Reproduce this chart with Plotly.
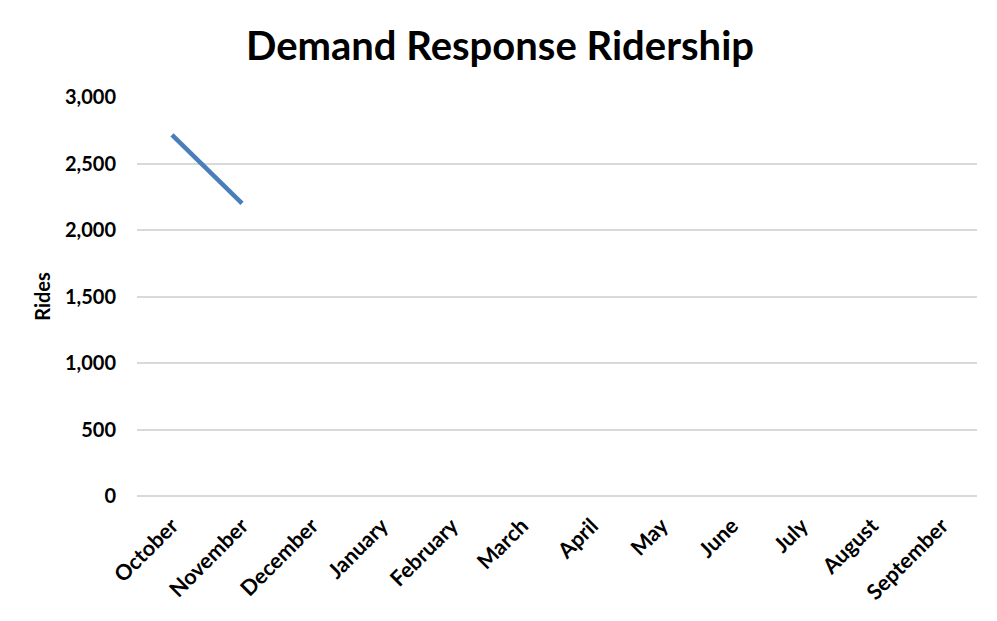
import plotly.graph_objects as go

months = ["October", "November", "December", "January", "February", "March",
          "April", "May", "June", "July", "August", "September"]
rides = [2715, 2200, None, None, None, None, None, None, None, None, None, None]

font_family = "Lato, Open Sans, sans-serif"

fig = go.Figure(go.Scatter(
    x=months,
    y=rides,
    mode="lines",
    line=dict(color="#4a7ebb", width=4.5),
    connectgaps=False,
    showlegend=False,
))

# page body has an 8px margin, so margins are shifted to match the reference
fig.update_layout(
    width=997,
    height=621,
    paper_bgcolor="white",
    plot_bgcolor="white",
    margin=dict(l=129, r=28, t=89, b=133, autoexpand=False),
    font=dict(family=font_family, color="black", size=20),
    title=dict(
        text="<b>Demand Response Ridership</b>",
        x=0.4935, xanchor="center",
        y=0.939, yanchor="middle",
        font=dict(size=40, family=font_family, color="black"),
    ),
)

fig.update_xaxes(
    type="category",
    categoryorder="array",
    categoryarray=months,
    range=[-0.5, len(months) - 0.5],
    tickangle=-45,
    tickfont=dict(size=21.5, weight="bold"),
    ticklabelstandoff=12,
    showgrid=False,
    showline=False,
    zeroline=False,
    ticks="",
)

fig.update_yaxes(
    range=[0, 3000],
    dtick=500,
    tickformat=",d",
    tickfont=dict(size=20, weight="bold"),
    ticklabelstandoff=20,
    gridcolor="#d9d9d9",
    gridwidth=1.5,
    zeroline=True,
    zerolinecolor="#d9d9d9",
    zerolinewidth=1.5,
    showline=False,
    title=dict(text="<b>Rides</b>", font=dict(size=20), standoff=8),
)

fig.write_html("out.html")
